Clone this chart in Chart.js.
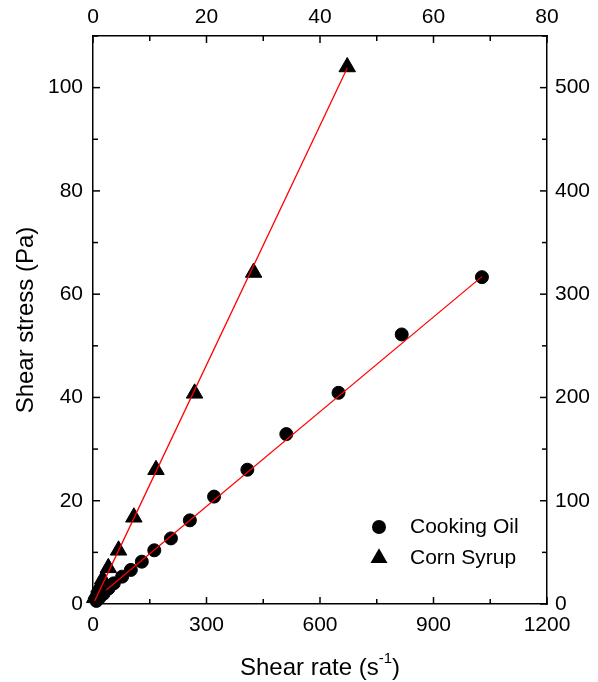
<!DOCTYPE html>
<html>
<head>
<meta charset="utf-8">
<script src="https://cdn.jsdelivr.net/npm/chart.js@4/dist/chart.umd.min.js"></script>
<style>
  html, body { margin: 0; padding: 0; background: #fff; }
  #wrap { width: 598px; height: 682px; }
</style>
</head>
<body>
<div id="wrap"><canvas id="chart" width="598" height="682"></canvas></div>
<script>
// --- Data ---
// Cooking oil: bottom axis (shear rate, 1/s) vs left axis (Pa)
const oilRate   = [1028, 816, 649, 511, 408, 320, 256, 206, 162, 129, 100, 77, 55, 41, 28, 17, 9];
const oilStress = [63.3, 52.2, 40.9, 32.9, 26.0, 20.8, 16.2, 12.7, 10.4, 8.2, 6.6, 5.3, 4.0, 3.0, 2.0, 1.2, 0.6];
// Corn syrup: top axis (shear rate) vs right axis (stress)
const syrupRate   = [44.8, 28.3, 17.9, 11.1, 7.2, 4.5, 2.7, 1.7, 1.05, 0.6, 0.3];
const syrupStress = [520, 321, 204, 130, 84, 52, 35, 24, 16, 10, 6];
// Linear fit end points
const oilFitRate     = [35, 1028];
const oilFitStress   = [2.7, 63.4];
const syrupFitRate   = [0.3, 44.8];
const syrupFitStress = [3, 519];

const seriesNames = ['Cooking Oil', 'Corn Syrup'];

// Axis ranges and tick steps
const xRange  = [0, 1200], xStep  = 300;
const x2Range = [0, 80],   x2Step = 20;
const yRange  = [0, 110],  yStep  = 20;
const y2Range = [0, 550],  y2Step = 100;

const FONT = '"Liberation Sans", Arial, sans-serif';

const toPoints = (xs, ys) => xs.map((x, i) => ({ x: x, y: ys[i] }));

// Inward major/minor tick marks on all four sides
const innerTicks = {
    id: 'innerTicks',
    afterDraw(chart) {
        const ctx = chart.ctx;
        const a = chart.chartArea;
        ctx.save();
        ctx.strokeStyle = '#000';
        ctx.lineWidth = 1.5;
        const sides = [
            { id: 'x',  step: xStep,  dir: 'bottom' },
            { id: 'x2', step: x2Step, dir: 'top' },
            { id: 'y',  step: yStep,  dir: 'left' },
            { id: 'y2', step: y2Step, dir: 'right' }
        ];
        sides.forEach(s => {
            const sc = chart.scales[s.id];
            for (let v = sc.min; v <= sc.max + 1e-9; v += s.step / 2) {
                const major = Math.abs((v / s.step) - Math.round(v / s.step)) < 1e-6;
                const len = major ? 7 : 5;
                const p = sc.getPixelForValue(v);
                ctx.beginPath();
                if (s.dir === 'bottom') { ctx.moveTo(p, a.bottom); ctx.lineTo(p, a.bottom - len); }
                if (s.dir === 'top')    { ctx.moveTo(p, a.top);    ctx.lineTo(p, a.top + len); }
                if (s.dir === 'left')   { ctx.moveTo(a.left, p);   ctx.lineTo(a.left + len, p); }
                if (s.dir === 'right')  { ctx.moveTo(a.right, p);  ctx.lineTo(a.right - len, p); }
                ctx.stroke();
            }
        });
        ctx.restore();
    }
};

// Axis titles (with superscript) and the in-plot legend
const titlesAndLegend = {
    id: 'titlesAndLegend',
    afterDraw(chart) {
        const ctx = chart.ctx;
        const a = chart.chartArea;
        ctx.save();
        ctx.fillStyle = '#000';

        // bottom title: Shear rate (s^-1)
        const main = '24px ' + FONT, sup = '15px ' + FONT;
        ctx.font = main;
        const w1 = ctx.measureText('Shear rate (s').width;
        const w3 = ctx.measureText(')').width;
        ctx.font = sup;
        const w2 = ctx.measureText('-1').width;
        let x = (a.left + a.right) / 2 - (w1 + w2 + w3) / 2;
        const yb = 668;
        ctx.textBaseline = 'middle';
        ctx.textAlign = 'left';
        ctx.font = main;
        ctx.fillText('Shear rate (s', x, yb);
        ctx.font = sup;
        ctx.fillText('-1', x + w1, yb - 9);
        ctx.font = main;
        ctx.fillText(')', x + w1 + w2, yb);

        // left title
        ctx.save();
        ctx.translate(26, (a.top + a.bottom) / 2);
        ctx.rotate(-Math.PI / 2);
        ctx.textAlign = 'center';
        ctx.font = main;
        ctx.fillText('Shear stress (Pa)', 0, 0);
        ctx.restore();

        // legend
        const lx = a.left + 286, ly = a.top + 491;
        ctx.font = '21px ' + FONT;
        ctx.textAlign = 'left';
        ctx.beginPath();
        ctx.arc(lx, ly, 7, 0, Math.PI * 2);
        ctx.fill();
        ctx.fillText(seriesNames[0], lx + 31, ly);
        const ty = ly + 31, r = 9.8;
        ctx.beginPath();
        ctx.moveTo(lx, ty - r);
        ctx.lineTo(lx + r * Math.sin(2 * Math.PI / 3), ty - r * Math.cos(2 * Math.PI / 3));
        ctx.lineTo(lx + r * Math.sin(4 * Math.PI / 3), ty - r * Math.cos(4 * Math.PI / 3));
        ctx.closePath();
        ctx.fill();
        ctx.fillText(seriesNames[1], lx + 31, ty);
        ctx.restore();
    }
};

const tickFont = { family: FONT, size: 21 };

function axis(pos, range, step, size, pad) {
    return {
        type: 'linear',
        position: pos,
        min: range[0],
        max: range[1],
        grid: { display: false, drawTicks: false },
        border: { display: true, color: '#000', width: 1.5 },
        ticks: {
            stepSize: step,
            includeBounds: false,
            color: '#000',
            font: tickFont,
            padding: pad,
            maxRotation: 0,
            autoSkip: false,
            callback: v => String(v)
        },
        afterFit(s) {
            if (pos === 'left' || pos === 'right') s.width = size; else s.height = size;
        }
    };
}

new Chart(document.getElementById('chart').getContext('2d'), {
    type: 'scatter',
    data: {
        datasets: [
            {
                label: 'Cooking Oil fit',
                type: 'line',
                data: toPoints(oilFitRate, oilFitStress),
                xAxisID: 'x', yAxisID: 'y',
                borderColor: '#ff0000', borderWidth: 1.3,
                pointRadius: 0, fill: false, order: 0
            },
            {
                label: 'Corn Syrup fit',
                type: 'line',
                data: toPoints(syrupFitRate, syrupFitStress),
                xAxisID: 'x2', yAxisID: 'y2',
                borderColor: '#ff0000', borderWidth: 1.3,
                pointRadius: 0, fill: false, order: 0
            },
            {
                label: seriesNames[0],
                data: toPoints(oilRate, oilStress),
                xAxisID: 'x', yAxisID: 'y',
                pointStyle: 'circle', pointRadius: 6.5,
                backgroundColor: '#000', borderColor: '#000', borderWidth: 1,
                order: 1
            },
            {
                label: seriesNames[1],
                data: toPoints(syrupRate, syrupStress),
                xAxisID: 'x2', yAxisID: 'y2',
                pointStyle: 'triangle', pointRadius: 9.5,
                backgroundColor: '#000', borderColor: '#000', borderWidth: 1,
                order: 1
            }
        ]
    },
    options: {
        responsive: false,
        animation: false,
        events: [],
        clip: false,
        layout: { padding: 0 },
        plugins: {
            legend: { display: false },
            tooltip: { enabled: false }
        },
        scales: {
            x:  axis('bottom', xRange,  xStep,  78, 9),
            x2: axis('top',    x2Range, x2Step, 36, 6),
            y:  axis('left',   yRange,  yStep,  93, 10),
            y2: axis('right',  y2Range, y2Step, 51, 8)
        }
    },
    plugins: [innerTicks, titlesAndLegend]
});
</script>
</body>
</html>
